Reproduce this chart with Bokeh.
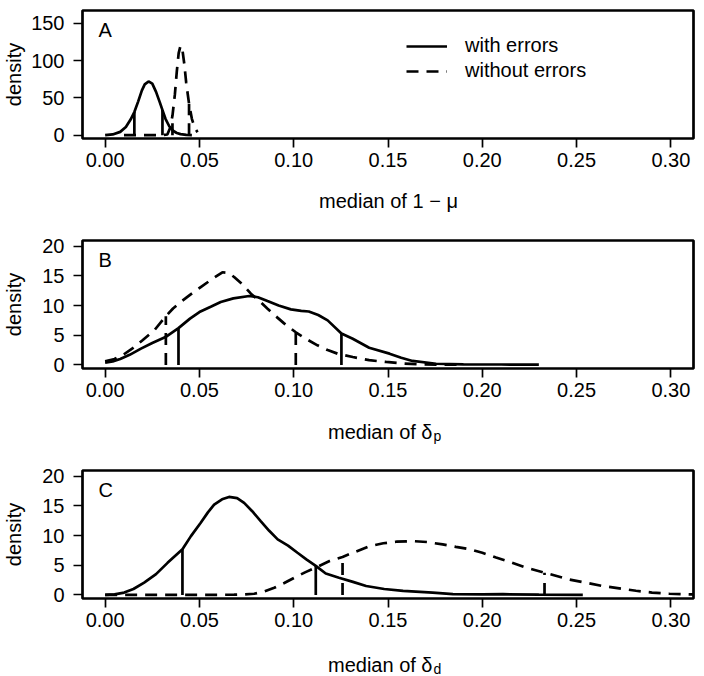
import math
import numpy as np
from bokeh.plotting import figure
from bokeh.layouts import column
from bokeh.models import Range1d, FixedTicker, Label, Legend, LegendItem, NumeralTickFormatter
from bokeh.embed import file_html
from bokeh.resources import INLINE

# ---------------- data ----------------
x_ticks = [0.00, 0.05, 0.10, 0.15, 0.20, 0.25, 0.30]
yticks_A = [0, 50, 100, 150]
yticks_BC = [0, 5, 10, 15, 20]

# Panel A: median of 1 - mu
A_with_x = [0.000, 0.004, 0.008, 0.011, 0.0135, 0.0155, 0.0175, 0.0195, 0.021, 0.023,
            0.025, 0.027, 0.029, 0.0305, 0.032, 0.034, 0.036, 0.038, 0.040, 0.043, 0.046]
A_with_y = [0.0, 1.0, 4.5, 11, 21, 31, 45, 60, 68, 72,
            69, 58, 44, 33, 22, 12, 6, 3, 1.5, 0.4, 0.1]
A_without_x = [0.010, 0.020, 0.030, 0.0330, 0.0345, 0.0357, 0.037, 0.038, 0.039, 0.040,
               0.041, 0.042, 0.043, 0.0445, 0.046, 0.0475, 0.049]
A_without_y = [0, 0, 0, 1, 10, 26, 55, 85, 110, 120,
               114, 95, 70, 42, 22, 10, 4]
A_ci_with = [0.0155, 0.0304]
A_ci_without = [0.0357, 0.0445]

# Panel B: median of delta_p
B_with_x = [0.000, 0.004, 0.008, 0.013, 0.019, 0.025, 0.032, 0.0389, 0.045, 0.050,
            0.056, 0.0613, 0.068, 0.0764, 0.081, 0.0861, 0.092, 0.0985, 0.104, 0.108,
            0.113, 0.118, 0.1253, 0.1313, 0.140, 0.1508, 0.157, 0.163, 0.1755, 0.19,
            0.21, 0.230]
B_with_y = [0.4, 0.6, 1.0, 1.7, 2.75, 3.7, 4.7, 6.2, 7.8, 8.9,
            9.8, 10.6, 11.2, 11.6, 11.4, 10.75, 10.0, 9.36, 9.1, 9.0,
            8.4, 7.5, 5.3, 4.4, 2.9, 1.9, 1.2, 0.67, 0.2, 0.1,
            0.07, 0.05]
B_without_x = [0.000, 0.005, 0.010, 0.0154, 0.020, 0.026, 0.0322, 0.036, 0.0401, 0.045,
               0.0507, 0.056, 0.0622, 0.0655, 0.0684, 0.073, 0.0773, 0.082, 0.086, 0.0905,
               0.0949, 0.1011, 0.107, 0.1126, 0.118, 0.1232, 0.1313, 0.140, 0.149, 0.158,
               0.1667, 0.180, 0.190]
B_without_y = [0.6, 1.0, 1.8, 3.0, 4.2, 5.8, 8.2, 9.5, 10.6, 11.8,
               13.1, 14.3, 15.6, 15.5, 14.8, 13.5, 12.0, 10.7, 9.5, 8.2,
               7.0, 5.5, 4.3, 3.3, 2.5, 1.9, 1.34, 0.8, 0.5, 0.25,
               0.1, 0.04, 0.02]
B_ci_with = [0.0389, 0.1253]
B_ci_without = [0.0322, 0.1011]

# Panel C: median of delta_d
C_with_x = [0.000, 0.005, 0.0101, 0.015, 0.0207, 0.027, 0.0331, 0.041, 0.0455, 0.0507,
            0.0545, 0.0578, 0.062, 0.0657, 0.070, 0.0737, 0.078, 0.0826, 0.087, 0.0915,
            0.097, 0.102, 0.1067, 0.1117, 0.117, 0.124, 0.1314, 0.1384, 0.148, 0.158,
            0.1737, 0.1844, 0.200, 0.211, 0.230, 0.2533]
C_with_y = [0.0, 0.1, 0.4, 1.0, 2.07, 3.5, 5.4, 7.7, 9.9, 12.15,
            13.9, 15.2, 16.1, 16.5, 16.3, 15.5, 14.1, 12.4, 10.8, 9.36,
            8.3, 7.1, 6.0, 4.9, 3.6, 2.9, 2.2, 1.5, 1.0, 0.67,
            0.4, 0.15, 0.1, 0.12, 0.05, 0.02]
C_without_x = [0.000, 0.020, 0.040, 0.060, 0.0684, 0.074, 0.079, 0.0845, 0.0897, 0.095,
               0.1003, 0.106, 0.113, 0.119, 0.1259, 0.1314, 0.140, 0.1475, 0.1544, 0.163,
               0.171, 0.179, 0.186, 0.1932, 0.200, 0.2073, 0.215, 0.2232, 0.233, 0.2462,
               0.2639, 0.2815, 0.290, 0.2992, 0.310, 0.320]
C_without_y = [0, 0, 0, 0.02, 0.05, 0.1, 0.2, 0.6, 1.2, 2.0,
               2.9, 3.8, 4.8, 5.7, 6.4, 7.1, 8.2, 8.7, 8.96, 9.07,
               8.9, 8.5, 8.1, 7.7, 7.1, 6.3, 5.5, 4.6, 3.75, 2.6,
               1.5, 0.7, 0.4, 0.2, 0.1, 0.05]
C_ci_with = [0.041, 0.1117]
C_ci_without = [0.1259, 0.233]

legend_labels = ["with errors", "without errors"]

# ---------------- styling ----------------
FONT = "Liberation Sans"
FS = "20px"
LW = 2.7
DASH = "12 8"
FRAME_H = 128
W = 700
BL = 81
BR = 7
XR = (-0.012, 0.312)


def make_panel(top, yrange, yticks, letter, wx, wy, wox, woy, ci_w, ci_wo,
               ylab_standoff, legend=False):
    p = figure(width=W, height=top + FRAME_H + 40, output_backend="svg",
               toolbar_location=None,
               x_range=Range1d(*XR), y_range=Range1d(*yrange),
               min_border_left=BL, min_border_right=BR, min_border_top=top,
               min_border_bottom=40)
    p.grid.visible = False
    p.outline_line_color = "black"
    p.outline_line_width = LW
    p.outline_line_alpha = 1.0
    p.background_fill_color = "white"
    p.border_fill_color = "white"

    for ax in (p.xaxis[0], p.yaxis[0]):
        ax.axis_line_color = None
        ax.major_tick_in = 0
        ax.major_tick_out = 9
        ax.major_tick_line_width = 1.7
        ax.major_tick_line_color = "black"
        ax.minor_tick_line_color = None
        ax.major_label_text_font = FONT
        ax.major_label_text_font_size = FS
        ax.major_label_text_color = "black"
    p.xaxis.ticker = FixedTicker(ticks=x_ticks)
    p.xaxis.formatter = NumeralTickFormatter(format="0.00")
    p.xaxis.major_label_standoff = 5
    p.yaxis.ticker = FixedTicker(ticks=yticks)
    p.yaxis.formatter = NumeralTickFormatter(format="0")
    p.yaxis.major_label_standoff = 9
    p.yaxis.axis_label = "density"
    p.yaxis.axis_label_text_font = FONT
    p.yaxis.axis_label_text_font_size = FS
    p.yaxis.axis_label_text_font_style = "normal"
    p.yaxis.axis_label_text_color = "black"
    p.yaxis.axis_label_standoff = ylab_standoff

    r_w = p.line(wx, wy, line_color="black", line_width=LW)
    r_wo = p.line(wox, woy, line_color="black", line_width=LW, line_dash=DASH)

    # interval lines from 0 up to the curve
    hw = np.interp(ci_w, wx, wy)
    hwo = np.interp(ci_wo, wox, woy)
    p.segment(x0=ci_w, y0=[0] * len(ci_w), x1=ci_w, y1=list(hw),
              line_color="black", line_width=LW)
    p.segment(x0=ci_wo, y0=[0] * len(ci_wo), x1=ci_wo, y1=list(hwo),
              line_color="black", line_width=LW, line_dash=DASH)

    p.add_layout(Label(x=16, y=FRAME_H - 19, x_units="screen", y_units="screen",
                       text=letter, text_align="left", text_baseline="alphabetic",
                       text_font=FONT, text_font_size=FS, text_color="black"))

    if legend:
        lg = Legend(items=[LegendItem(label=legend_labels[0], renderers=[r_w]),
                           LegendItem(label=legend_labels[1], renderers=[r_wo])],
                    location=(324, 56))
        lg.border_line_color = None
        lg.background_fill_alpha = 0
        lg.padding = 0
        lg.margin = 0
        lg.spacing = 2
        lg.glyph_width = 41
        lg.glyph_height = 20
        lg.label_height = 20
        lg.label_standoff = 18
        lg.label_text_font = FONT
        lg.label_text_font_size = FS
        lg.label_text_color = "black"
        p.add_layout(lg)
    return p


def make_title(height, base_y, main, sub=None):
    t = figure(width=W, height=height, output_backend="svg", toolbar_location=None,
               x_range=Range1d(*XR), y_range=Range1d(0, height),
               x_axis_location=None, y_axis_location=None,
               min_border_left=BL, min_border_right=BR, min_border_top=0,
               min_border_bottom=0)
    t.grid.visible = False
    t.outline_line_color = None
    t.background_fill_color = "white"
    t.border_fill_color = "white"
    if sub is None:
        t.add_layout(Label(x=306, y=base_y, x_units="screen", y_units="screen",
                           text=main, text_align="center", text_baseline="alphabetic",
                           text_font=FONT, text_font_size=FS, text_color="black"))
    else:
        t.add_layout(Label(x=350, y=base_y, x_units="screen", y_units="screen",
                           text=main, text_align="right", text_baseline="alphabetic",
                           text_font=FONT, text_font_size=FS, text_color="black"))
        t.add_layout(Label(x=351, y=base_y - 4, x_units="screen", y_units="screen",
                           text=sub, text_align="left", text_baseline="alphabetic",
                           text_font=FONT, text_font_size="14px", text_color="black"))
    return t


pA = make_panel(10, (-4.4, 167), yticks_A, "A", A_with_x, A_with_y,
                A_without_x, A_without_y, A_ci_with, A_ci_without, 3, legend=True)
tA = make_title(50, 28, "median of 1 \u2212 \u03bc")
pB = make_panel(12, (-0.6, 20.95), yticks_BC, "B", B_with_x, B_with_y,
                B_without_x, B_without_y, B_ci_with, B_ci_without, 14)
tB = make_title(50, 27, "median of \u03b4", "p")
pC = make_panel(12, (-0.6, 20.95), yticks_BC, "C", C_with_x, C_with_y,
                C_without_x, C_without_y, C_ci_with, C_ci_without, 14)
tC = make_title(38, 12, "median of \u03b4", "d")

layout = column(pA, tA, pB, tB, pC, tC, spacing=0)
open("out.html", "w").write(file_html(layout, INLINE))
